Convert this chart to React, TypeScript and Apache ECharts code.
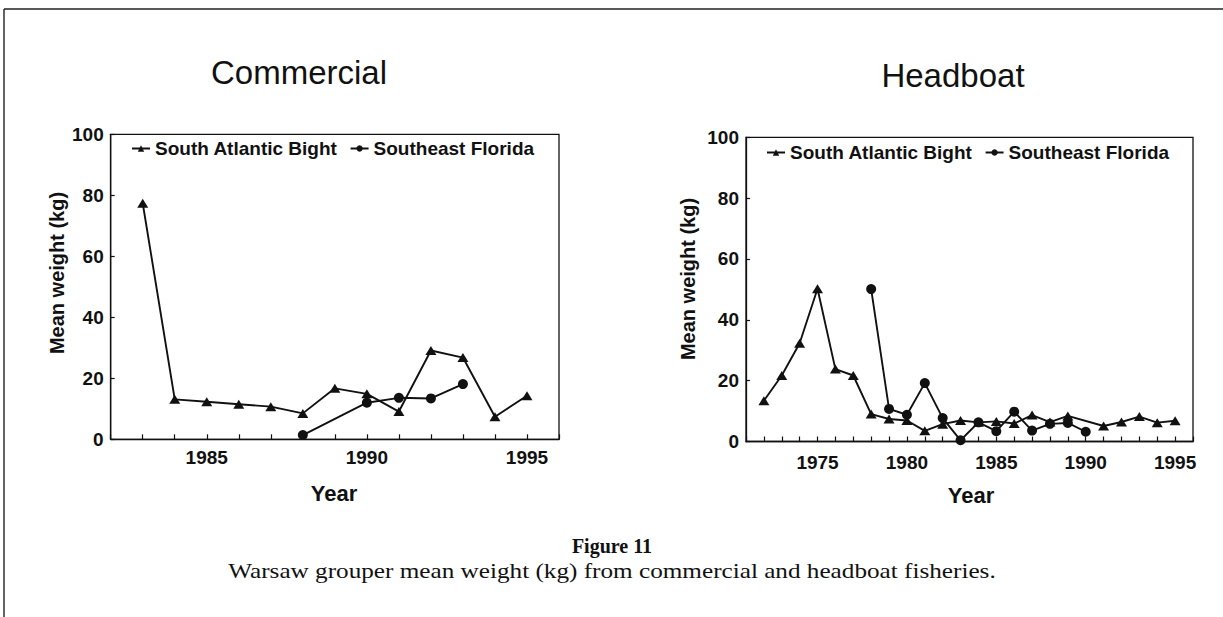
import React, { useEffect, useRef } from "react";
import * as echarts from "echarts";

// Commercial panel
const comSabYears = [1983, 1984, 1985, 1986, 1987, 1988, 1989, 1990, 1991, 1992, 1993, 1994, 1995];
const comSabValues = [77.4, 13.1, 12.3, 11.5, 10.7, 8.5, 16.7, 14.9, 9.1, 29.1, 26.8, 7.4, 14.3];
const comSefYears = [1988, 1990, 1991, 1992, 1993];
const comSefValues = [1.4, 12.0, 13.6, 13.4, 18.1];

// Headboat panel
const hbSabYears = [1972, 1973, 1974, 1975, 1976, 1977, 1978, 1979, 1980, 1981, 1982, 1983, 1984, 1985, 1986, 1987, 1988, 1989, 1991, 1992, 1993, 1994, 1995];
const hbSabValues = [13.4, 21.7, 32.3, 50.2, 23.8, 21.7, 9.0, 7.4, 6.9, 3.5, 5.7, 6.9, 6.3, 6.6, 5.9, 8.7, 6.4, 8.4, 5.1, 6.4, 8.2, 6.2, 6.8];
const hbSefYears = [1978, 1979, 1980, 1981, 1982, 1983, 1984, 1985, 1986, 1987, 1988, 1989, 1990];
const hbSefValues = [50.1, 10.7, 8.8, 19.2, 7.7, 0.4, 6.3, 3.4, 9.8, 3.6, 5.8, 6.1, 3.2];

const seriesNames = ["South Atlantic Bight", "Southeast Florida"];
const panelTitles = ["Commercial", "Headboat"];
const yTicks = [0, 20, 40, 60, 80, 100];
const captionTitle = "Figure 11";
const captionText = "Warsaw grouper mean weight (kg) from commercial and headboat fisheries.";

const INK = "#111";
const SANS = "'Liberation Sans', Arial, Helvetica, sans-serif";
const SERIF = "'Liberation Serif', 'Times New Roman', serif";

const pairs = (xs: number[], ys: number[]) => xs.map((x, i) => [x, ys[i]]);

export default function App() {
  const ref = useRef<HTMLDivElement>(null);
  useEffect(() => {
    if (!ref.current) return;
    const chart = echarts.init(ref.current, null, { renderer: "svg" });

    const xAxisBase = (min: number, margin: number) => ({
      type: "value" as const,
      min,
      max: 1996,
      interval: 1,
      axisLine: { show: true, lineStyle: { color: INK, width: 1.3 } },
      axisTick: { show: true, inside: true, length: 5, lineStyle: { color: INK, width: 1.2 } },
      axisLabel: {
        color: INK,
        fontFamily: SANS,
        fontWeight: "bold",
        fontSize: 19,
        margin,
        formatter: (v: number) => (v % 5 === 0 ? String(v) : ""),
      },
      splitLine: { show: false },
    });

    const yAxisBase = {
      type: "value" as const,
      min: yTicks[0],
      max: yTicks[yTicks.length - 1],
      interval: 20,
      axisLine: { show: true, lineStyle: { color: INK, width: 1.3 } },
      axisTick: { show: true, inside: true, length: 4, lineStyle: { color: INK, width: 1.2 } },
      axisLabel: { color: INK, fontFamily: SANS, fontWeight: "bold", fontSize: 19, margin: 7 },
      splitLine: { show: false },
    };

    const lineSeries = (name: string, data: number[][], idx: number, tri: boolean) => ({
      name,
      type: "line" as const,
      xAxisIndex: idx,
      yAxisIndex: idx,
      data,
      symbol: tri ? "triangle" : "circle",
      symbolSize: tri ? [11, 9] : 10,
      showAllSymbol: true,
      lineStyle: { color: INK, width: 1.9 },
      itemStyle: { color: INK },
      z: tri ? 3 : 4,
    });

    const legendBase = {
      orient: "horizontal" as const,
      itemWidth: 18,
      itemHeight: 8,
      itemGap: 12,
      padding: 0,
      selectedMode: false,
      textStyle: { color: INK, fontFamily: SANS, fontWeight: "bold", fontSize: 19 },
      data: seriesNames,
    };

    const txt = (text: string, x: number, y: number, font: string, rot = 0, sx = 1) => ({
      type: "text" as const,
      x,
      y,
      rotation: rot,
      scaleX: sx,
      style: { text, font, fill: INK, textAlign: "center", textVerticalAlign: "middle" },
    });

    chart.setOption({
      animation: false,
      backgroundColor: "#fff",
      grid: [
        { left: 110.7, top: 134.3, width: 448.3, height: 305, show: true, borderColor: INK, borderWidth: 1.3, backgroundColor: "transparent" },
        { left: 746, top: 137.3, width: 447, height: 304.2, show: true, borderColor: INK, borderWidth: 1.3, backgroundColor: "transparent" },
      ],
      xAxis: [
        { ...xAxisBase(1982, 9), gridIndex: 0 },
        { ...xAxisBase(1971, 11), gridIndex: 1 },
      ],
      yAxis: [
        { ...yAxisBase, gridIndex: 0 },
        { ...yAxisBase, gridIndex: 1 },
      ],
      legend: [
        { ...legendBase, left: 131, top: 139 },
        { ...legendBase, left: 766, top: 143 },
      ],
      series: [
        lineSeries(seriesNames[0], pairs(comSabYears, comSabValues), 0, true),
        lineSeries(seriesNames[1], pairs(comSefYears, comSefValues), 0, false),
        lineSeries(seriesNames[0], pairs(hbSabYears, hbSabValues), 1, true),
        lineSeries(seriesNames[1], pairs(hbSefYears, hbSefValues), 1, false),
      ],
      graphic: [
        { type: "line", shape: { x1: 4, y1: 9, x2: 1223, y2: 9 }, style: { stroke: "#222", lineWidth: 1.6 } },
        { type: "line", shape: { x1: 4, y1: 9, x2: 4, y2: 617 }, style: { stroke: "#222", lineWidth: 1.4 } },
        txt(panelTitles[0], 299, 72, `normal 33px ${SANS}`),
        txt(panelTitles[1], 953, 75, `normal 33px ${SANS}`),
        txt("Mean weight (kg)", 57, 273, `bold 20px ${SANS}`, Math.PI / 2),
        txt("Mean weight (kg)", 688, 279, `bold 20px ${SANS}`, Math.PI / 2),
        txt("Year", 334, 493, `bold 22px ${SANS}`),
        txt("Year", 971, 495, `bold 22px ${SANS}`),
        txt(captionTitle, 612, 546, `bold 20px ${SERIF}`),
        txt(captionText, 612, 571, `normal 21px ${SERIF}`, 0, 1.2),
      ],
    });

    return () => chart.dispose();
  }, []);

  return (
    <div
      ref={ref}
      style={{ position: "fixed", left: 0, top: 0, width: 1223, height: 617, background: "#fff" }}
    />
  );
}
